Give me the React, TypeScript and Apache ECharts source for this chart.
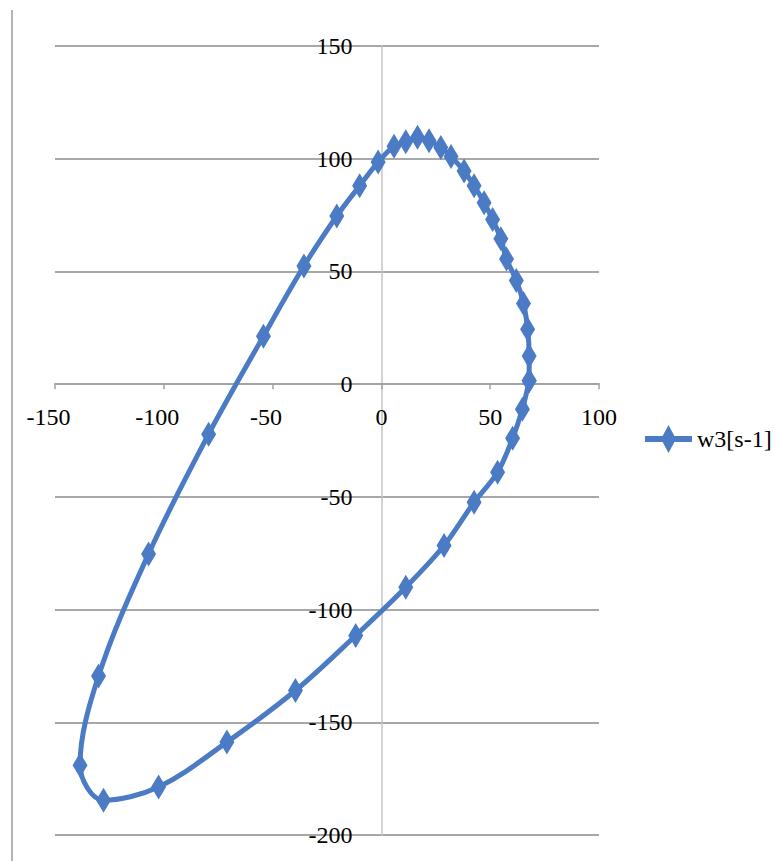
import React, { useEffect, useRef } from "react";
import * as echarts from "echarts";

const seriesName = "w3[s-1]";
const xTicks = { min: -150, max: 100, interval: 50 };
const yTicks = { min: -200, max: 150, interval: 50 };

// loop points (x, y) in drawing order
const xValues = [
  67.9, 64.8, 60.3, 53.4, 42.6, 28.8, 11.2, -11.8, -39.5, -71, -102.4, -127.7,
  -138.5, -130, -107, -79.4, -54.2, -35.6, -20.5, -10, -1.5, 5.8, 11.2, 16.6,
  21.9, 27.3, 32, 38, 42.6, 47.2, 51.1, 54.9, 57.5, 62, 65.3, 67.2, 67.9, 67.9,
];
const yValues = [
  1.5, -11.1, -24, -39.1, -52.4, -71.6, -90.1, -111.5, -135.9, -158.8, -178.7,
  -184.6, -169.1, -129.5, -75.3, -22.2, 21.3, 52.4, 74.6, 88, 98.5, 105.5, 107.5,
  109.5, 108, 105, 101, 94.5, 88, 80.5, 73, 64.5, 55.5, 46, 35.8, 24.4, 12.5, 1.5,
];

const BLUE = "#4a7bc4";
const FONT = "serif";

// layout of the plot area
const W = 775;
const H = 861;
const GRID = { left: 55, right: 176, top: 46, bottom: 26 };

export default function App() {
  const ref = useRef<HTMLDivElement>(null);

  useEffect(() => {
    if (!ref.current) return;
    const chart = echarts.init(ref.current, undefined, { renderer: "svg" });
    const data = xValues.map((x, i) => [x, yValues[i]]);

    const plotW = W - GRID.left - GRID.right;
    const plotH = H - GRID.top - GRID.bottom;
    // move each axis (line, ticks and labels) to the other axis's zero
    const xAxisOffset = -((0 - yTicks.min) / (yTicks.max - yTicks.min)) * plotH;
    const yAxisOffset = -((0 - xTicks.min) / (xTicks.max - xTicks.min)) * plotW;

    chart.setOption({
      animation: false,
      backgroundColor: "#ffffff",
      textStyle: { fontFamily: FONT },
      grid: { ...GRID, containLabel: false, outerBoundsMode: "none" },
      legend: {
        show: true,
        left: 645,
        top: 425,
        padding: 0,
        itemWidth: 47,
        itemHeight: 28,
        itemGap: 5,
        icon: "path://M0,11 L47,11 L47,17 L0,17 Z M23.5,0 L31,14 L23.5,28 L16,14 Z",
        textStyle: { fontFamily: FONT, fontSize: 24, color: "#000" },
        data: [seriesName],
      },
      xAxis: {
        type: "value",
        position: "bottom",
        offset: xAxisOffset,
        min: xTicks.min,
        max: xTicks.max,
        interval: xTicks.interval,
        axisLine: { show: true, onZero: false, lineStyle: { color: "#a3a3a3", width: 2 } },
        axisTick: { show: true, inside: false, length: 5, lineStyle: { color: "#a3a3a3", width: 1.5 } },
        splitLine: { show: false },
        axisLabel: {
          margin: 21,
          color: "#000",
          fontFamily: FONT,
          fontSize: 24,
          formatter: (v: number) => (v < 0 ? `{n|${v}}` : `{p|${v}}`),
          rich: {
            n: { fontFamily: FONT, fontSize: 24, color: "#000", padding: [0, 13, 0, 0] },
            p: { fontFamily: FONT, fontSize: 24, color: "#000" },
          },
        },
      },
      yAxis: {
        type: "value",
        position: "left",
        offset: yAxisOffset,
        min: yTicks.min,
        max: yTicks.max,
        interval: yTicks.interval,
        axisLine: { show: true, onZero: false, lineStyle: { color: "#c4c4c4", width: 1.5 } },
        axisTick: { show: false },
        splitLine: { show: true, lineStyle: { color: "#a8a8a8", width: 2 } },
        axisLabel: {
          margin: 29,
          color: "#000",
          fontFamily: FONT,
          fontSize: 24,
        },
      },
      graphic: [
        {
          type: "line",
          shape: { x1: 12, y1: 10, x2: 12, y2: 861 },
          style: { stroke: "#b4b4b4", lineWidth: 2 },
          silent: true,
        },
      ],
      series: [
        {
          name: seriesName,
          type: "line",
          data,
          smooth: 0.35,
          symbol: "diamond",
          symbolSize: [15, 25],
          showAllSymbol: true,
          lineStyle: { color: BLUE, width: 5 },
          itemStyle: { color: BLUE },
          z: 5,
        },
      ],
    });
    return () => chart.dispose();
  }, []);

  return (
    <div
      ref={ref}
      style={{ position: "absolute", left: 0, top: 0, width: W, height: H }}
    />
  );
}
